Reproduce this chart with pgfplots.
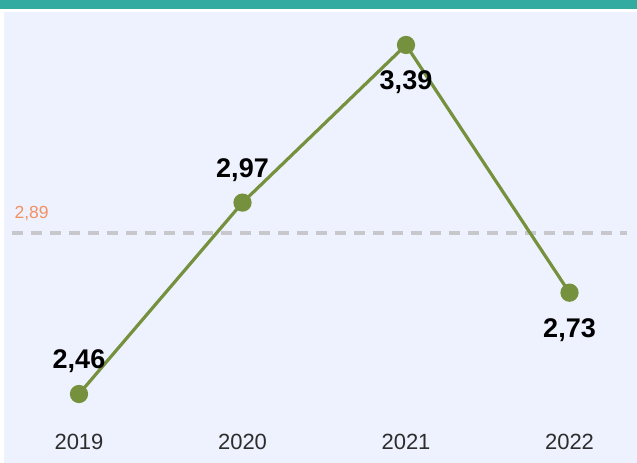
\documentclass[border=0pt]{standalone}
\usepackage{pgfplots}
\pgfplotsset{compat=1.18}
\usepackage{fontspec}
\setmainfont{Liberation Sans}
\definecolor{bgc}{RGB}{238,242,254}
\definecolor{topbar}{RGB}{52,171,160}
\definecolor{olive}{RGB}{118,145,62}
\definecolor{reflab}{RGB}{243,144,99}
\definecolor{refline}{RGB}{200,200,204}
\definecolor{ticktxt}{RGB}{45,45,45}
\begin{document}
\begin{tikzpicture}
\useasboundingbox (0,0) rectangle (637bp,463bp);
\fill[white] (0,0) rectangle (637bp,463bp);
\fill[bgc] (4bp,0) rectangle (637bp,451bp);
\fill[topbar] (0,454bp) rectangle (637bp,463bp);
\begin{axis}[
  at={(0,0)}, anchor=south west,
  scale only axis, width=637bp, height=463bp,
  xmin=-0.4832, xmax=3.4128,
  ymin=2.2762, ymax=3.5098,
  axis line style={draw=none},
  major tick length=0pt,
  ytick=\empty,
  xtick={0,1,2,3},
  xticklabels={2019,2020,2021,2022},
  xticklabel style={anchor=base, yshift=14bp, font=\fontsize{22bp}{24bp}\selectfont, text=ticktxt},
  clip=false,
  /pgf/number format/assume math mode=true,
]
\addplot[refline, line width=4bp, dash pattern=on 11bp off 8bp] coordinates {(-0.41,2.89) (3.35,2.89)};
\node[text=reflab, font=\fontsize{17.5bp}{19bp}\selectfont] at (axis cs:-0.29,2.94) {2,89};
\addplot[olive, line width=3.2bp, mark=*, mark size=7.5bp, mark options={fill=olive, draw=olive}] coordinates {
(0,2.46) (1,2.97) (2,3.39) (3,2.73)};
\addplot[draw=none, mark=none, nodes near coords, point meta=y,
  nodes near coords style={anchor=center, yshift=32.5bp, font=\fontsize{27bp}{30bp}\selectfont\bfseries, text=black,
  /pgf/number format/.cd, fixed, fixed zerofill, precision=2, use comma}]
  coordinates {(0,2.46) (1,2.97)};
\addplot[draw=none, mark=none, nodes near coords, point meta=y,
  nodes near coords style={anchor=center, yshift=-37.5bp, font=\fontsize{27bp}{30bp}\selectfont\bfseries, text=black,
  /pgf/number format/.cd, fixed, fixed zerofill, precision=2, use comma}]
  coordinates {(2,3.39) (3,2.73)};
\end{axis}
\end{tikzpicture}
\end{document}
